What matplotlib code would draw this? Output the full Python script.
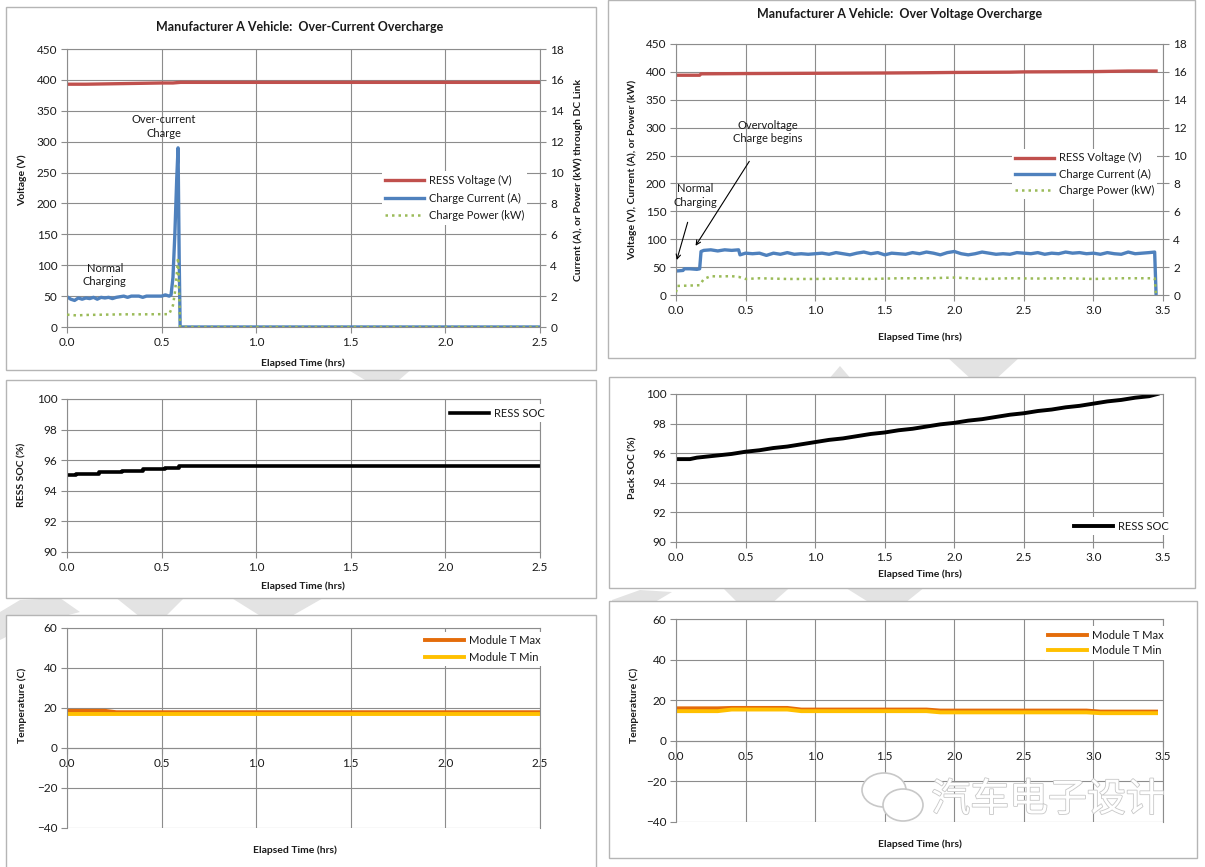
import numpy as np
import matplotlib
matplotlib.use('Agg')
import matplotlib.pyplot as plt
from matplotlib.patches import Rectangle, Polygon, Ellipse
from matplotlib.ticker import FormatStrFormatter
import matplotlib.patheffects as pe

plt.rcParams['font.family'] = ['Lato', 'DejaVu Sans']

W, H = 1205, 867

# ---- over-current test (left column) ----
oc_t_v = [0.0, 0.1, 0.2, 0.3, 0.4, 0.5, 0.56, 0.6, 1.0, 1.5, 2.0, 2.5]
oc_volt = [393, 393, 393.5, 394, 394.5, 395, 395, 396, 396, 396, 396, 396]

oc_t_i = [0.0, 0.02, 0.04, 0.06, 0.08, 0.10, 0.12, 0.14, 0.16, 0.18, 0.20, 0.22, 0.24,
          0.26, 0.28, 0.30, 0.32, 0.34, 0.36, 0.38, 0.40, 0.42, 0.44, 0.46, 0.48, 0.50,
          0.52, 0.54, 0.55, 0.56, 0.57, 0.58, 0.587, 0.593, 0.598, 1.0, 1.5, 2.0, 2.5]
oc_curr = [49, 45, 43, 47, 45, 47, 46, 48, 45, 48, 47, 48, 46,
           48, 49, 50, 48, 50, 50, 50, 48, 50, 50, 50, 50, 50,
           52, 50, 52, 80, 150, 240, 290, 110, 0, 0, 0, 0, 0]

oc_t_p = [0.0, 0.05, 0.1, 0.2, 0.3, 0.4, 0.5, 0.54, 0.56, 0.57, 0.58, 0.587, 0.598,
          1.0, 1.5, 2.0, 2.5]
oc_power = [0.80, 0.75, 0.78, 0.80, 0.82, 0.82, 0.83, 0.83, 1.4, 2.2, 3.4, 4.5, 0.0,
            0, 0, 0, 0]

oc_soc_t = [0.0, 0.03, 0.05, 0.15, 0.17, 0.27, 0.29, 0.38, 0.40, 0.50, 0.52, 0.57, 0.59, 2.5]
oc_soc = [95.0, 95.0, 95.1, 95.1, 95.2, 95.2, 95.3, 95.3, 95.4, 95.4, 95.5, 95.5, 95.6, 95.6]

oc_temp_t = [0.0, 0.2, 0.26, 1.0, 2.0, 2.5]
oc_tmax = [18.6, 18.6, 17.9, 17.9, 17.9, 17.9]
oc_tmin = [16.9, 16.9, 16.9, 16.9, 16.9, 16.9]

# ---- over-voltage test (right column) ----
ov_t_v = [0.0, 0.17, 0.18, 0.5, 1.0, 1.5, 1.8, 2.0, 2.4, 2.5, 3.0, 3.25, 3.45]
ov_volt = [394, 394, 396.5, 397, 397.5, 398, 398.5, 399, 399.5, 400, 400.5, 401.5, 401.5]

ov_t_i = [0.0, 0.05, 0.06, 0.1, 0.15, 0.17, 0.18, 0.2, 0.25, 0.3, 0.35, 0.4, 0.45, 0.46,
          0.5, 0.55, 0.6, 0.65, 0.7, 0.75, 0.8, 0.85, 0.9, 0.95, 1.0, 1.05, 1.1, 1.15,
          1.2, 1.25, 1.3, 1.35, 1.4, 1.45, 1.5, 1.55, 1.6, 1.65, 1.7, 1.75, 1.8, 1.85,
          1.9, 1.95, 2.0, 2.05, 2.1, 2.15, 2.2, 2.25, 2.3, 2.35, 2.4, 2.45, 2.5, 2.55,
          2.6, 2.65, 2.7, 2.75, 2.8, 2.85, 2.9, 2.95, 3.0, 3.05, 3.1, 3.15, 3.2, 3.25,
          3.3, 3.35, 3.4, 3.44, 3.45]
ov_curr = [43, 44, 47, 47, 46, 47, 78, 80, 81, 79, 81, 80, 81, 72,
           75, 74, 75, 71, 75, 73, 76, 73, 74, 73, 74, 75, 73, 76,
           74, 72, 75, 77, 74, 76, 72, 75, 74, 73, 76, 74, 77, 75,
           72, 76, 78, 74, 72, 74, 77, 75, 73, 74, 73, 76, 75, 74,
           76, 73, 75, 74, 77, 75, 76, 74, 75, 73, 76, 74, 73, 77,
           74, 75, 76, 77, 3]

ov_t_p = [0.0, 0.01, 0.17, 0.2, 0.25, 0.3, 0.4, 0.45, 0.5, 0.6, 0.8, 1.0, 1.2, 1.4,
          1.6, 1.8, 2.0, 2.2, 2.4, 2.6, 2.8, 3.0, 3.2, 3.44, 3.45]
ov_power = [0.2, 0.65, 0.7, 1.15, 1.35, 1.33, 1.35, 1.3, 1.15, 1.2, 1.15, 1.15, 1.18, 1.15,
            1.2, 1.2, 1.25, 1.15, 1.2, 1.18, 1.2, 1.15, 1.2, 1.2, 0.0]

ov_soc_t = [0.0, 0.1, 0.15, 0.3, 0.4, 0.5, 0.6, 0.7, 0.8, 0.9, 1.0, 1.1, 1.2, 1.3, 1.4,
            1.5, 1.6, 1.7, 1.8, 1.9, 2.0, 2.1, 2.2, 2.3, 2.4, 2.5, 2.6, 2.7, 2.8, 2.9,
            3.0, 3.1, 3.2, 3.3, 3.4, 3.46]
ov_soc = [95.6, 95.6, 95.7, 95.85, 95.95, 96.1, 96.2, 96.35, 96.45, 96.6, 96.75, 96.9,
          97.0, 97.15, 97.3, 97.4, 97.55, 97.65, 97.8, 97.95, 98.05, 98.2, 98.3, 98.45,
          98.6, 98.7, 98.85, 98.95, 99.1, 99.2, 99.35, 99.5, 99.6, 99.75, 99.85, 100.0]

ov_temp_t = [0.0, 0.3, 0.4, 0.8, 0.9, 1.8, 1.9, 2.95, 3.05, 3.45]
ov_tmax = [16.0, 16.0, 16.2, 16.2, 15.4, 15.4, 14.9, 14.9, 14.4, 14.4]
ov_tmin = [14.6, 14.6, 15.4, 15.4, 14.6, 14.6, 14.0, 14.0, 13.6, 13.6]

RED, BLUE, GREEN = '#C0504D', '#4F81BD', '#9BBB59'
ORANGE, GOLD = '#E46C0A', '#FFC000'
GRID = '#8c8c8c'
TXT = '#1a1a1a'


def rect(l, t, r, b):
    # pixel box -> figure fraction [left, bottom, width, height]
    return [l / W, 1 - b / H, (r - l) / W, (b - t) / H]


def style(ax, xmax, ylim, ystep):
    ax.set_facecolor('none')
    ax.set_xlim(0, xmax)
    ax.set_ylim(*ylim)
    ax.set_xticks(np.arange(0, xmax + 0.01, 0.5))
    ax.set_yticks(np.arange(ylim[0], ylim[1] + 0.01, ystep))
    ax.xaxis.set_major_formatter(FormatStrFormatter('%.1f'))
    ax.grid(True, color=GRID, lw=0.8)
    ax.set_axisbelow(True)
    for s in ax.spines.values():
        s.set_color(GRID)
        s.set_linewidth(0.8)
    ax.tick_params(direction='out', length=4, color=GRID, labelsize=8.5,
                   labelcolor=TXT, pad=3)


def right_axis(ax):
    axb = ax.twinx()
    axb.set_ylim(0, 18)
    axb.set_yticks(np.arange(0, 19, 2))
    axb.tick_params(direction='out', length=4, color=GRID, labelsize=8.5, labelcolor=TXT)
    for s in axb.spines.values():
        s.set_visible(False)
    return axb


def legend(ax, handles, labels, x, y, ls=0.6):
    lg = ax.legend(handles, labels, loc='center left',
                   bbox_to_anchor=(x / W, 1 - y / H), bbox_transform=fig.transFigure,
                   fontsize=8, handlelength=3.5, handletextpad=0.4, labelspacing=ls,
                   borderpad=0.3, borderaxespad=0, fancybox=False, framealpha=1,
                   edgecolor='none', facecolor='white')
    for t in lg.get_texts():
        t.set_color(TXT)
    return lg


def flabel(x, y, s, rot=0, size=7.5):
    fig.text(x / W, 1 - y / H, s, rotation=rot, ha='center', va='center',
             fontsize=size, fontweight='bold', color=TXT)


fig = plt.figure(figsize=(W / 100, H / 100), dpi=100)

# faint background watermark shapes seen in the gaps between charts
shapes = [
    [(345, 368), (413, 368), (385, 392)],
    [(222, 392), (247, 392), (236, 380)],
    [(828, 380), (852, 380), (840, 366)],
    [(947, 357), (1020, 357), (995, 380), (972, 380)],
    [(0, 640), (0, 612), (20, 600), (60, 598), (80, 612), (30, 625)],
    [(115, 597), (185, 597), (165, 617), (140, 617)],
    [(230, 597), (325, 597), (290, 617), (262, 617)],
    [(612, 640), (612, 600), (640, 590), (672, 592), (650, 605)],
    [(718, 583), (795, 583), (770, 605), (740, 605)],
    [(838, 583), (930, 583), (905, 603), (870, 603)],
]
for pts in shapes:
    fig.patches.append(Polygon([(px / W, 1 - py / H) for px, py in pts], closed=True,
                               transform=fig.transFigure, facecolor='#e3e3e3',
                               edgecolor='none', zorder=-5))

# chart-area frames
for l, t, r, b in [(6, 7, 596, 370), (608, 0, 1195, 358), (6, 380, 596, 598),
                   (609, 377, 1195, 588), (6, 615, 596, 880), (609, 601, 1197, 858)]:
    fig.patches.append(Rectangle((l / W, 1 - b / H), (r - l) / W, (b - t) / H,
                                 transform=fig.transFigure, facecolor='white',
                                 edgecolor='#b5b5b5', lw=1.0, zorder=-2))

# ---------- panel 1: over-current voltage / current / power ----------
ax1 = fig.add_axes(rect(67, 49, 540, 327))
style(ax1, 2.5, (0, 450), 50)
l1, = ax1.plot(oc_t_v, oc_volt, color=RED, lw=2.4)
l2, = ax1.plot(oc_t_i, oc_curr, color=BLUE, lw=2.4)
ax1b = right_axis(ax1)
l3, = ax1b.plot(oc_t_p, oc_power, color=GREEN, lw=1.8, ls=(0, (1, 1.6)))
legend(ax1b, [l1, l2, l3], ['RESS Voltage (V)', 'Charge Current (A)', 'Charge Power (kW)'],
       382, 198)
ax1.text(0.51, 324, 'Over-current\nCharge', ha='center', va='center', fontsize=8,
         color=TXT, linespacing=1.3)
ax1.text(0.2, 84, 'Normal\nCharging', ha='center', va='center', fontsize=8,
         color=TXT, linespacing=1.3)
fig.text(300 / W, 1 - 27 / H, 'Manufacturer A Vehicle:  Over-Current Overcharge',
         ha='center', va='center', fontsize=9, fontweight='bold', color=TXT)
flabel(22, 180, 'Voltage (V)', rot=90)
flabel(578, 180, 'Current (A), or Power (kW) through DC Link', rot=90)
flabel(303, 363, 'Elapsed Time (hrs)')

# ---------- panel 2: over-voltage voltage / current / power ----------
ax2 = fig.add_axes(rect(676, 44, 1163, 295))
style(ax2, 3.5, (0, 450), 50)
m1, = ax2.plot(ov_t_v, ov_volt, color=RED, lw=2.4)
m2, = ax2.plot(ov_t_i, ov_curr, color=BLUE, lw=2.4)
ax2b = right_axis(ax2)
m3, = ax2b.plot(ov_t_p, ov_power, color=GREEN, lw=1.8, ls=(0, (1, 1.6)))
legend(ax2b, [m1, m2, m3], ['RESS Voltage (V)', 'Charge Current (A)', 'Charge Power (kW)'],
       1012, 174, ls=0.45)
ax2.annotate('Normal\nCharging', xy=(0.0, 58), xytext=(0.14, 179), ha='center',
             va='center', fontsize=8, color=TXT, linespacing=1.3,
             arrowprops=dict(arrowstyle='->', color='black', lw=0.8, shrinkA=9))
ax2.annotate('Overvoltage\nCharge begins', xy=(0.13, 84), xytext=(0.66, 292), ha='center',
             va='center', fontsize=8, color=TXT, linespacing=1.3,
             arrowprops=dict(arrowstyle='->', color='black', lw=0.8, shrinkA=12))
fig.text(900 / W, 1 - 14 / H, 'Manufacturer A Vehicle:  Over Voltage Overcharge',
         ha='center', va='center', fontsize=9, fontweight='bold', color=TXT)
flabel(632, 170, 'Voltage (V), Current (A), or Power (kW)', rot=90)
flabel(920, 337, 'Elapsed Time (hrs)')

# ---------- panel 3: over-current SOC ----------
ax3 = fig.add_axes(rect(67, 399, 540, 552))
style(ax3, 2.5, (90, 100), 2)
s1, = ax3.plot(oc_soc_t, oc_soc, color='black', lw=2.6, drawstyle='steps-post')
legend(ax3, [s1], ['RESS SOC'], 447, 413)
flabel(22, 475, 'RESS SOC (%)', rot=90)
flabel(303, 586, 'Elapsed Time (hrs)')

# ---------- panel 4: over-voltage SOC ----------
ax4 = fig.add_axes(rect(676, 394, 1163, 542))
style(ax4, 3.5, (90, 100), 2)
s2, = ax4.plot(ov_soc_t, ov_soc, color='black', lw=2.8)
legend(ax4, [s2], ['RESS SOC'], 1071, 526)
flabel(633, 468, 'Pack SOC (%)', rot=90)
flabel(920, 574, 'Elapsed Time (hrs)')

# ---------- panel 5: over-current temperatures ----------
ax5 = fig.add_axes(rect(67, 628, 540, 828))
style(ax5, 2.5, (-40, 60), 20)
ax5.spines['bottom'].set_position(('data', 0))
t1, = ax5.plot(oc_temp_t, oc_tmax, color=ORANGE, lw=2.8)
t2, = ax5.plot(oc_temp_t, oc_tmin, color=GOLD, lw=2.8)
legend(ax5, [t1, t2], ['Module T Max', 'Module T Min'], 422, 649, ls=0.5)
flabel(22, 705, 'Temperature (C)', rot=90)
flabel(295, 850, 'Elapsed Time (hrs)')

# ---------- panel 6: over-voltage temperatures ----------
ax6 = fig.add_axes(rect(676, 619, 1163, 822))
style(ax6, 3.5, (-40, 60), 20)
ax6.spines['bottom'].set_position(('data', 0))
u1, = ax6.plot(ov_temp_t, ov_tmax, color=ORANGE, lw=2.8)
u2, = ax6.plot(ov_temp_t, ov_tmin, color=GOLD, lw=2.8)
legend(ax6, [u1, u2], ['Module T Max', 'Module T Min'], 1045, 643, ls=0.4)
flabel(634, 705, 'Temperature (C)', rot=90)
flabel(920, 844, 'Elapsed Time (hrs)')

# publisher watermark (chat-bubble logo + name)
for cx, cy, w, h in [(884, 790, 44, 34), (903, 805, 40, 32)]:
    fig.patches.append(Ellipse((cx / W, 1 - cy / H), w / W, h / H,
                               transform=fig.transFigure, facecolor='white',
                               edgecolor='#c8c8c8', lw=1.2, zorder=10))
fig.text(1048 / W, 1 - 800 / H, '汽车电子设计', ha='center', va='center', fontsize=28,
         family=['Noto Sans CJK SC', 'DejaVu Sans'], color='white', zorder=11,
         path_effects=[pe.withStroke(linewidth=1.2, foreground='#c8c8c8')])

fig.savefig('out.png', dpi=100)
